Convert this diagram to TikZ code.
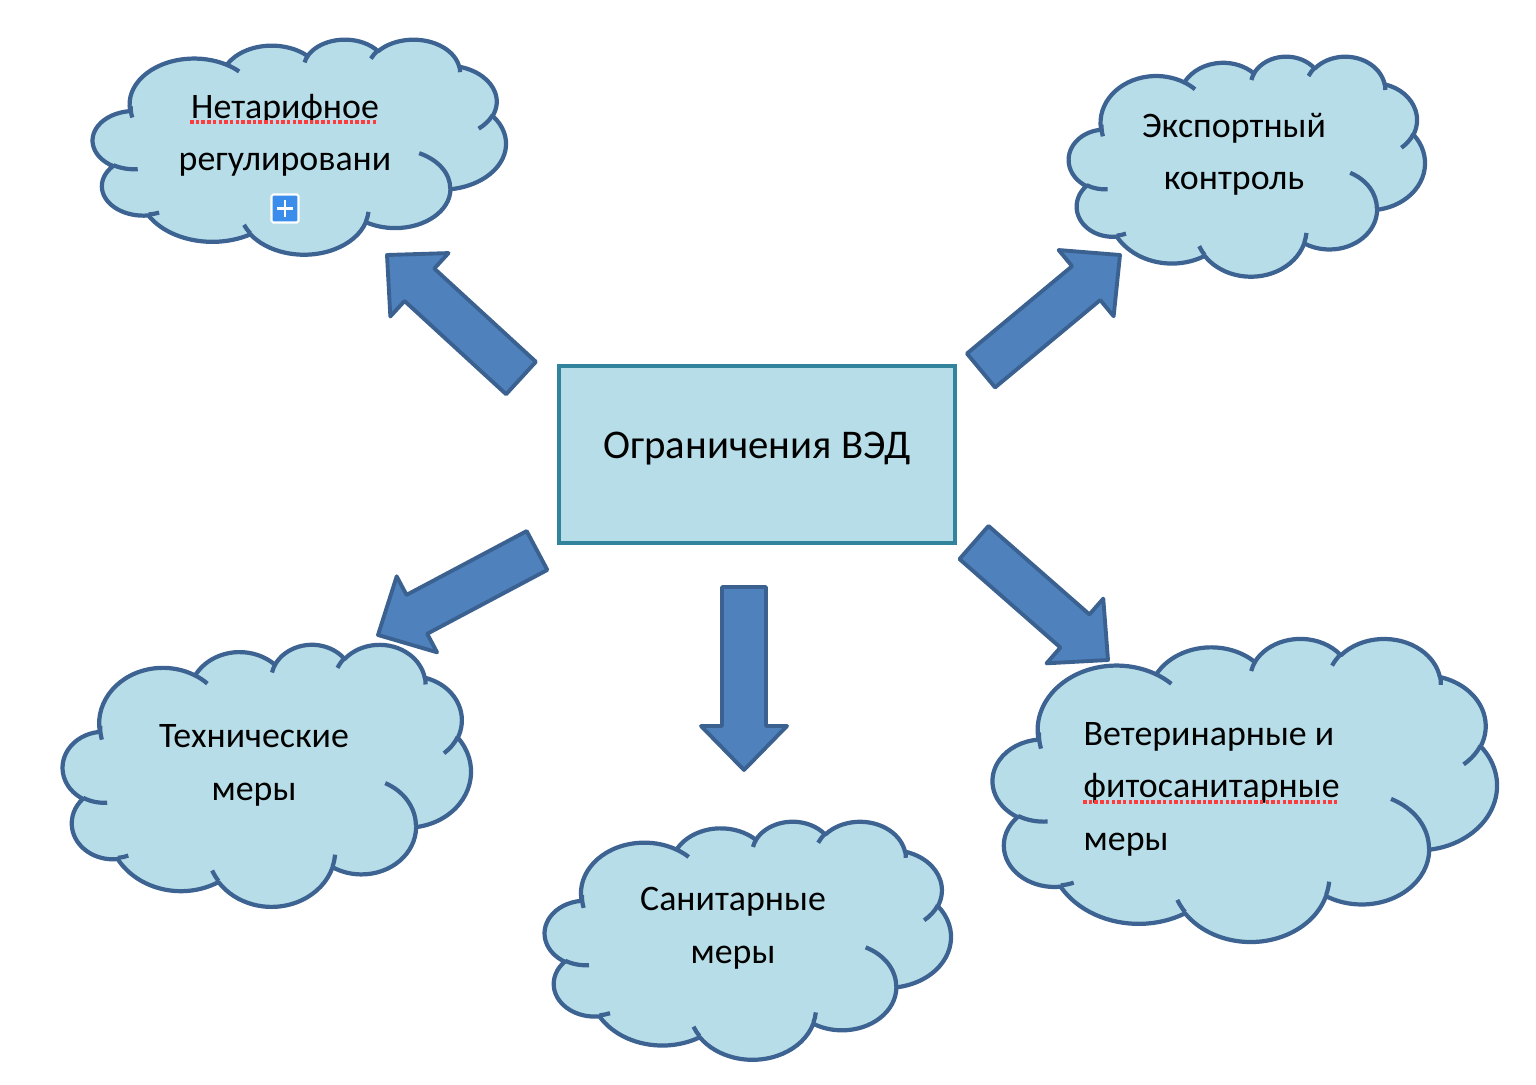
\documentclass[tikz,border=0pt]{standalone}
\usepackage{fontspec}
\setmainfont{Carlito}
\usetikzlibrary{calc}
\definecolor{cloudfill}{HTML}{B7DEE8}
\definecolor{cloudedge}{HTML}{3D6392}
\definecolor{boxedge}{HTML}{31849B}
\definecolor{arrowfill}{HTML}{4F81BD}
\definecolor{arrowedge}{HTML}{3A6190}
\definecolor{spellred}{HTML}{FF3B3B}
\definecolor{iconblue}{HTML}{3B8DEB}
\tikzset{
  declare function={cpa(\ca,\crx,\cry)=atan2(\crx*sin(\ca),\cry*cos(\ca));},
  declare function={cdd(\ca,\cs,\crx,\cry)=\cs+(cpa(\ca+\cs,\crx,\cry)-cpa(\ca,\crx,\cry)-\cs)-360*round((cpa(\ca+\cs,\crx,\cry)-cpa(\ca,\crx,\cry)-\cs)/360);},
  cloudline/.style={draw=cloudedge,line width=1.2pt,line join=round},
  cframe/.style={inner sep=0pt,outer sep=0pt,draw=none},
  ctext/.style={font=\fontsize{10.2pt}{14.8pt}\selectfont,align=center,inner sep=0pt},
  btext/.style={font=\fontsize{11.6pt}{14.8pt}\selectfont,inner sep=0pt},
  vedbox/.style={draw=boxedge,line width=1.2pt,fill=cloudfill,inner sep=0pt,outer sep=0pt},
  barrow/.style={draw=arrowedge,fill=arrowfill,line width=1.1pt,line join=round},
  spell/.style={draw=spellred,line width=0.9pt,dash pattern=on 0.035cm off 0.022cm},
  plusicon/.style={draw=white,line width=0.6pt,fill=iconblue,minimum width=0.27cm,minimum height=0.28cm,inner sep=0pt,rounded corners=0.5pt,
    path picture={\draw[white,line width=0.8pt] ($(path picture bounding box.center)+(-0.08cm,0)$) -- ++(0.16cm,0)
      ($(path picture bounding box.center)+(0,-0.08cm)$) -- ++(0,0.16cm);}},
}
\newcommand\carc[4]{arc[start angle={cpa(#3,#1,#2)},delta angle={cdd(#3,#4,#1,#2)},x radius=#1,y radius=#2]}
\newcommand\cloudat[3]{%
 \begin{scope}[shift={(#1.north west)},xscale=#2/43.2,yscale=#3/43.2]
  \path[cloudline,fill=cloudfill] (3.9,14.37)
   \carc{6.753}{9.19}{-190.487}{123.781}
   \carc{5.333}{7.267}{-144.102}{89.945}
   \carc{4.365}{5.945}{-145.808}{99.723}
   \carc{4.857}{6.595}{-130.986}{117.242}
   \carc{5.333}{7.273}{-78.709}{109.027}
   \carc{6.775}{9.22}{-46.267}{130.269}
   \carc{5.785}{7.867}{0.625}{114.033}
   \carc{6.752}{9.215}{22.452}{115.173}
   \carc{7.72}{10.543}{66.243}{75.711}
   \carc{4.36}{5.918}{-274.942}{146.736}
   \carc{4.345}{5.945}{-246.829}{152.519}
   -- cycle;
  \path[cloudline]
   (4.693,26.177) \carc{4.345}{5.945}{86.742}{26.43}
   (6.928,34.899) \carc{4.36}{5.918}{73.61}{11.447}
   (16.478,39.09) \carc{6.752}{9.215}{137.624}{14.081}
   (28.827,34.751) \carc{6.752}{9.215}{6.453}{15.998}
   (34.129,22.954) \carc{5.785}{7.867}{-70.292}{70.917}
   (41.798,15.354) \carc{5.333}{7.273}{30.318}{27.752}
   (38.324,5.426) \carc{4.857}{6.595}{-13.744}{14.859}
   (29.078,3.952) \carc{4.857}{6.595}{-149.181}{18.195}
   (22.141,4.72) \carc{4.365}{5.945}{-163.494}{17.686}
   (14.0,5.192) \carc{6.753}{9.19}{-66.707}{12.319}
   (4.127,15.789) \carc{6.753}{9.19}{162.037}{19.426};
 \end{scope}}
\newcommand\blockarrow[3]{%
 \coordinate (#1n) at ($(#3)!0.44cm!(#2)$);
 \path[barrow] ($(#2)!0.22cm!90:(#3)$) -- ($(#1n)!0.22cm!90:(#3)$) -- ($(#1n)!0.43cm!90:(#3)$) -- (#3)
   -- ($(#1n)!0.43cm!-90:(#3)$) -- ($(#1n)!0.22cm!-90:(#3)$) -- ($(#2)!0.22cm!-90:(#3)$) -- cycle;}
\begin{document}
\begin{tikzpicture}[x=0.01cm,y=-0.01cm]
\useasboundingbox (0,0) rectangle (1536,1085);
% clouds
\node[cframe,minimum width=4.13cm,minimum height=2.15cm] (c1) at (299.5,146.5) {};
\cloudat{c1}{413}{215}
\node[cframe,minimum width=3.56cm,minimum height=2.20cm] (c2) at (1247,166) {};
\cloudat{c2}{356}{220}
\node[cframe,minimum width=4.08cm,minimum height=2.62cm] (c3) at (267,775) {};
\cloudat{c3}{408}{262}
\node[cframe,minimum width=4.06cm,minimum height=2.38cm] (c4) at (748,940) {};
\cloudat{c4}{406}{238}
\node[cframe,minimum width=5.04cm,minimum height=3.03cm] (c5) at (1245,789.5) {};
\cloudat{c5}{504}{303}
% cloud texts (base anchor = baseline of the last line)
\node[ctext,anchor=base] (t1) at (285,171) {Нетарифное\\регулировани};
\node[ctext,anchor=base] (t2) at (1234,190) {Экспортный\\контроль};
\node[ctext,anchor=base] (t3) at (254,800) {Технические\\меры};
\node[ctext,anchor=base] (t4) at (733,963) {Санитарные\\меры};
\node[ctext,align=left,anchor=base west] (t5) at (1083,850) {Ветеринарные и\\фитосанитарные\\меры};
\draw[spell] (190,122) -- (377,122);
\draw[spell] (1083,802) -- (1339,802);
\node[plusicon] (plus) at (285,208.5) {};
% central box
\node[vedbox,minimum width=3.96cm,minimum height=1.77cm] (ved) at (757,454.5) {};
\node[btext,anchor=base] (vedt) at (757,458) {Ограничения ВЭД};
% block arrows
\coordinate (a1t) at (521,378); \coordinate (a1h) at (387,255);
\blockarrow{a1}{a1t}{a1h}
\coordinate (a2t) at (981,370.5); \coordinate (a2h) at (1120,255);
\blockarrow{a2}{a2t}{a2h}
\coordinate (a3t) at (537,550.5); \coordinate (a3h) at (378,635);
\blockarrow{a3}{a3t}{a3h}
\coordinate (a4t) at (974,542.5); \coordinate (a4h) at (1108,660);
\blockarrow{a4}{a4t}{a4h}
\coordinate (a5t) at (744,587); \coordinate (a5h) at (744,770);
\blockarrow{a5}{a5t}{a5h}
\end{tikzpicture}
\end{document}
